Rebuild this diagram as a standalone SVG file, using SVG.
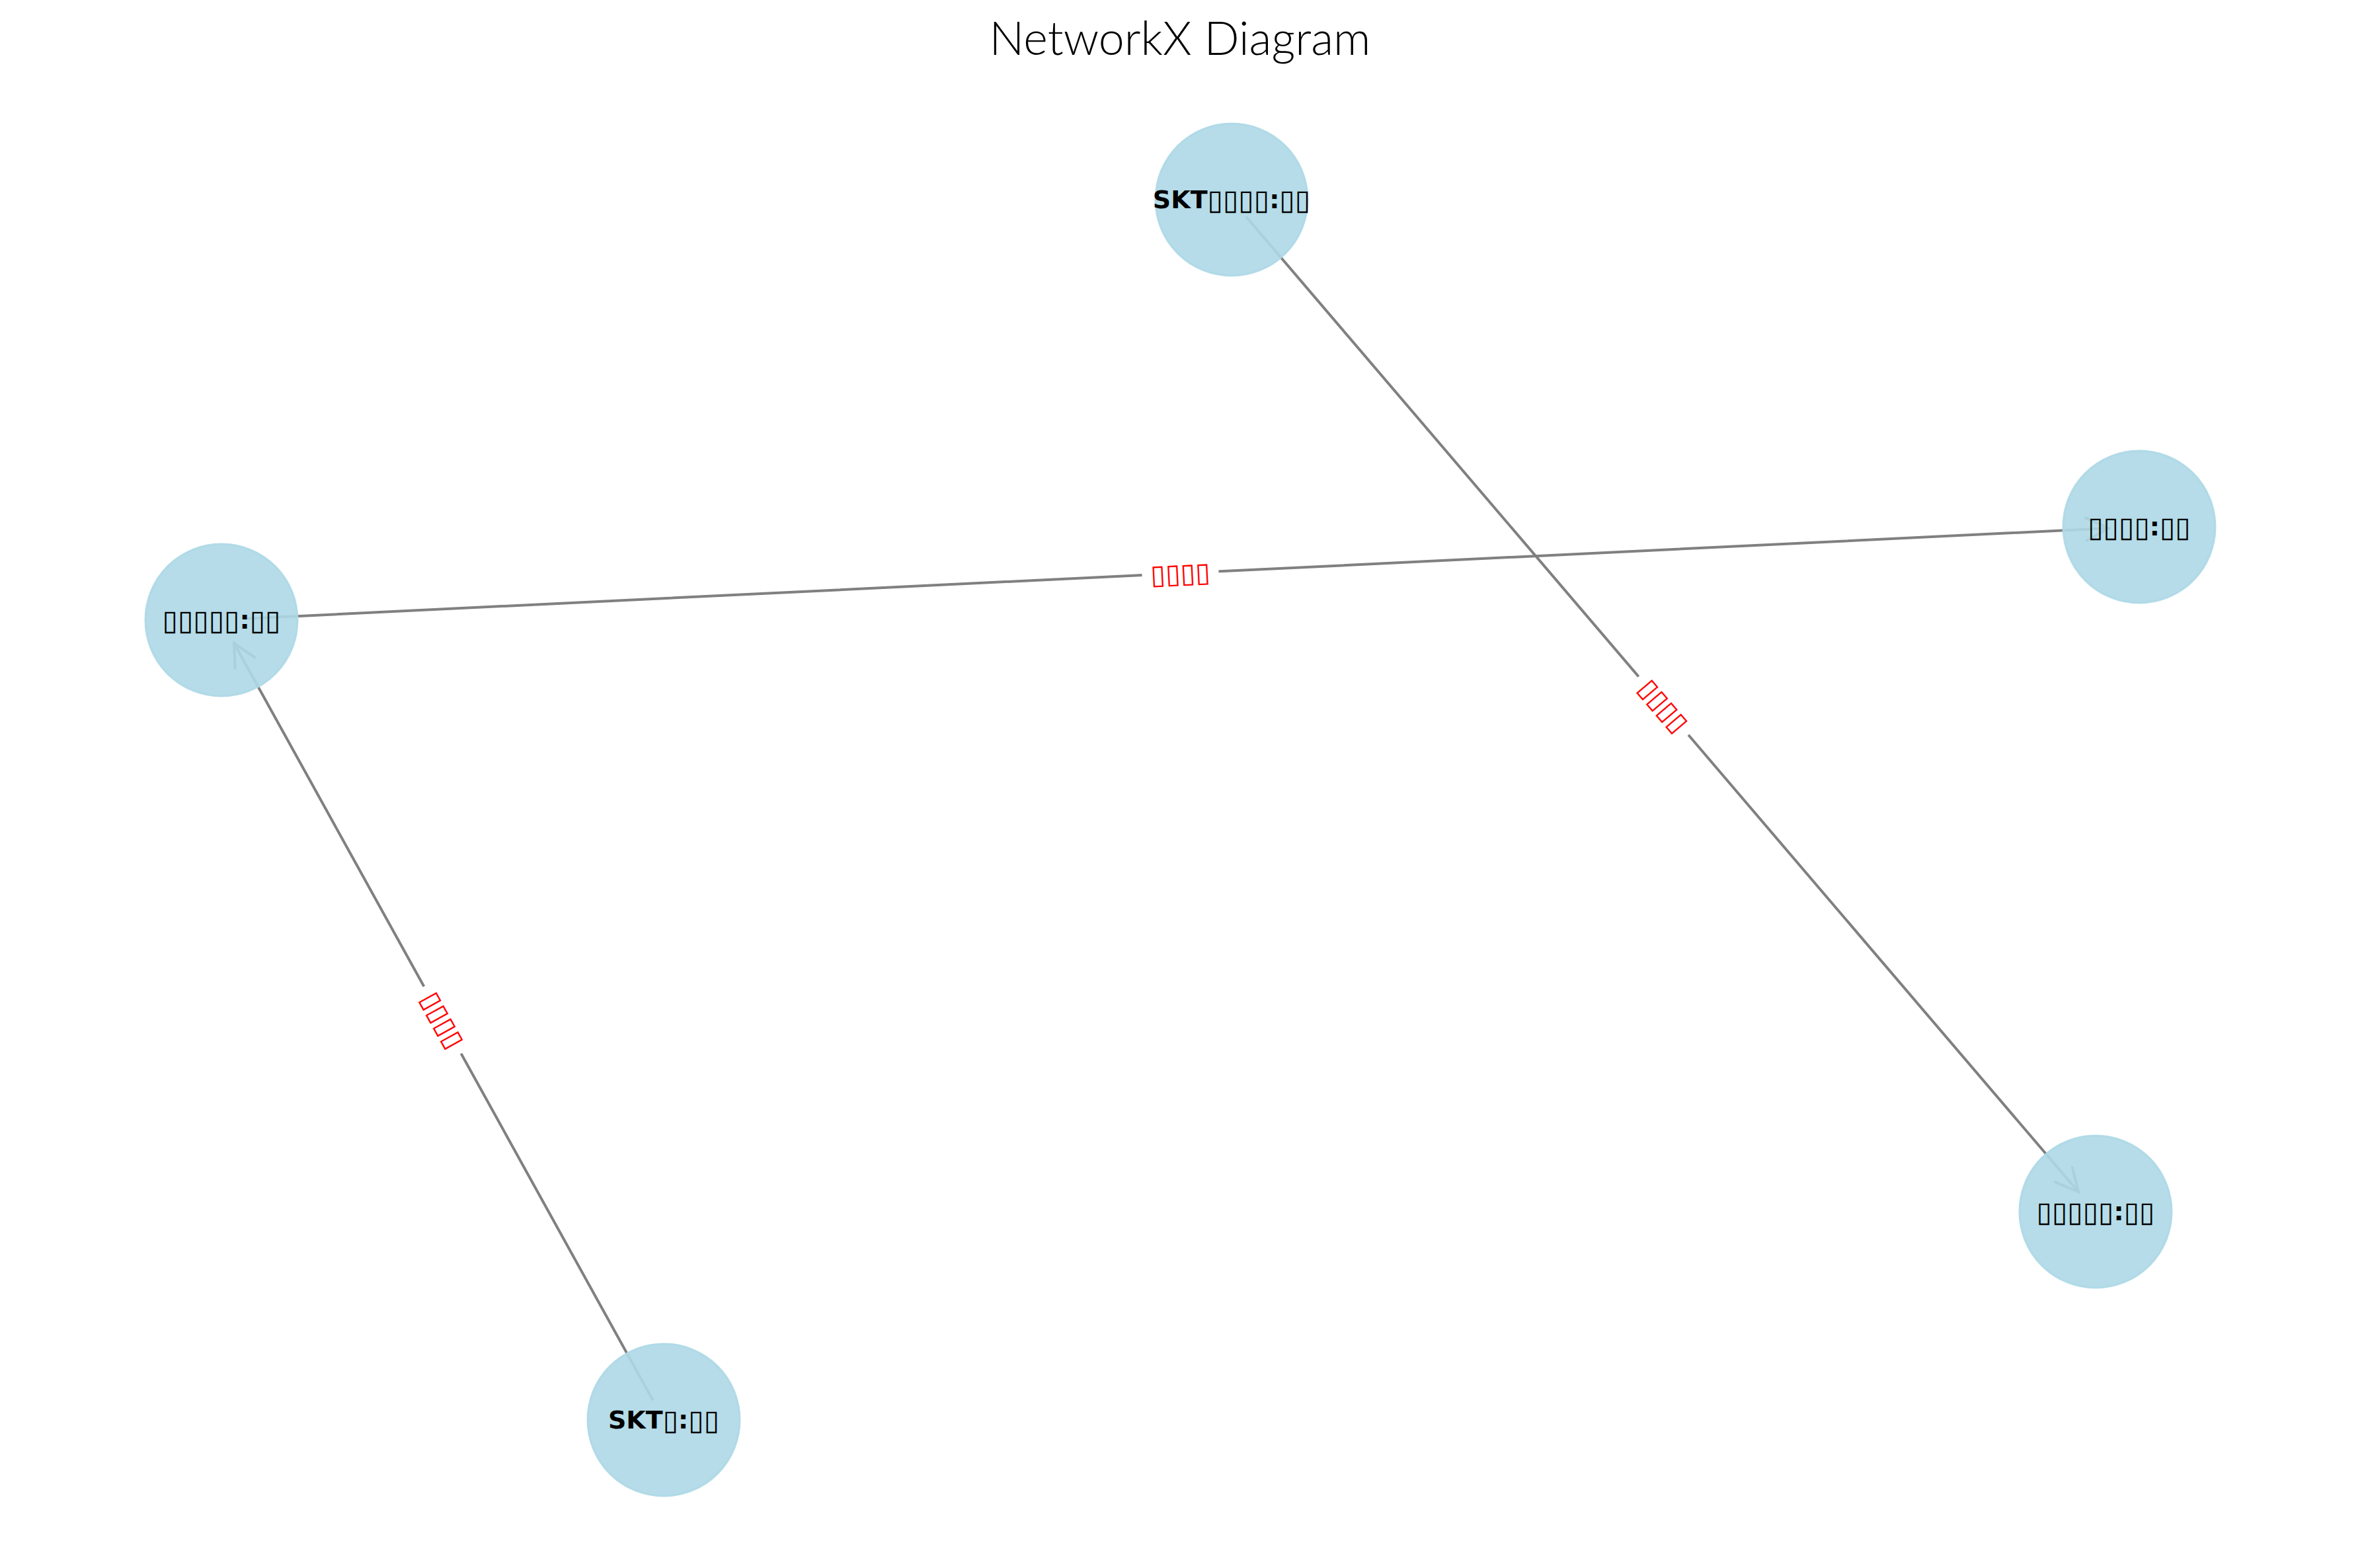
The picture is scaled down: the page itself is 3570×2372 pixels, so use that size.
<svg xmlns="http://www.w3.org/2000/svg" width="3570" height="2372" viewBox="0 0 3570 2372">
<defs>
<style>
.edge{stroke:#808080;stroke-width:4;fill:none;stroke-linecap:round;marker-end:url(#arr)}
.node circle{fill:#add8e6;fill-opacity:0.9;stroke:#add8e6;stroke-opacity:0.9;stroke-width:3}
.node text{font-family:"DejaVu Sans",sans-serif;font-weight:bold;font-size:38px;fill:#000;text-anchor:middle;dominant-baseline:central}
.node .b{font-size:42.5px}
.elabel rect{fill:#fff}
.elabel text{font-family:"DejaVu Sans",sans-serif;font-size:41px;fill:#ff0000;text-anchor:middle;dominant-baseline:central}
.title{font-family:Lato,"Open Sans",sans-serif;font-weight:300;font-size:70px;fill:#000;text-anchor:middle}
</style>
<marker id="arr" markerUnits="userSpaceOnUse" markerWidth="80" markerHeight="80" viewBox="-40 -40 80 80" refX="0" refY="0" orient="auto">
<path d="M -34 -17 L 0 0 L -34 17" fill="none" stroke="#808080" stroke-width="4" stroke-linecap="round" stroke-linejoin="miter"/>
</marker>
</defs>
<rect width="3570" height="2372" fill="#fff"/>
<text class="title" x="1785" y="83">NetworkX Diagram</text>
<g id="edges">
<line class="edge" x1="1886" y1="329" x2="3144" y2="1803"/>
<line class="edge" x1="370" y1="936" x2="3190" y2="799"/>
<line class="edge" x1="987" y1="2117" x2="354" y2="973"/>
</g>
<g id="edge-labels">
<g class="elabel" transform="translate(2516.5 1067.5) rotate(49.5)"><rect x="-58" y="-26" width="116" height="52"/><text x="0" y="0">▯▯▯▯</text></g>
<g class="elabel" transform="translate(1785.5 867.5) rotate(-2.78)"><rect x="-58" y="-26" width="116" height="52"/><text x="0" y="0">▯▯▯▯</text></g>
<g class="elabel" transform="translate(669.5 1543) rotate(61.07)"><rect x="-58" y="-26" width="116" height="52"/><text x="0" y="0">▯▯▯▯</text></g>
</g>
<g id="node-top" class="node"><circle cx="1863" cy="302" r="115"/><text x="1863" y="302">SKT<tspan class="b">▯▯▯▯</tspan>:<tspan class="b">▯▯</tspan></text></g>
<g id="node-left" class="node"><circle cx="335" cy="938" r="115"/><text x="335" y="938"><tspan class="b">▯▯▯▯▯</tspan>:<tspan class="b">▯▯</tspan></text></g>
<g id="node-right" class="node"><circle cx="3236" cy="797" r="115"/><text x="3236" y="797"><tspan class="b">▯▯▯▯</tspan>:<tspan class="b">▯▯</tspan></text></g>
<g id="node-bottom-right" class="node"><circle cx="3170" cy="1833" r="115"/><text x="3170" y="1833"><tspan class="b">▯▯▯▯▯</tspan>:<tspan class="b">▯▯</tspan></text></g>
<g id="node-bottom-left" class="node"><circle cx="1004" cy="2148" r="115"/><text x="1004" y="2148">SKT<tspan class="b">▯</tspan>:<tspan class="b">▯▯</tspan></text></g>
</svg>
